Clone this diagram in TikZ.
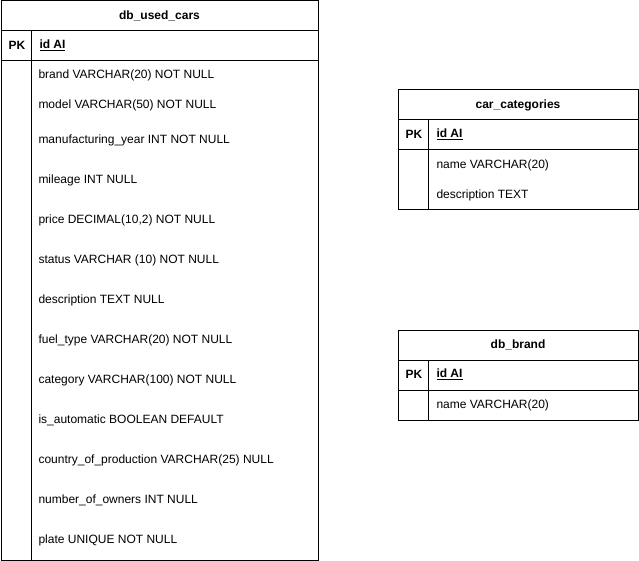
\documentclass[tikz,border=0pt]{standalone}
\usepackage{fontspec}
\setmainfont{Liberation Sans}
\usetikzlibrary{calc}
\tikzset{
  title/.style={inner sep=0pt, font=\fontsize{12}{14}\selectfont\bfseries},
  key/.style={inner sep=0pt, font=\fontsize{12}{14}\selectfont\bfseries},
  field/.style={anchor=west, inner sep=0pt, font=\fontsize{12}{14}\selectfont}
}
% name, x1, y1, x2, y2, title
\newcommand{\drawTable}[6]{
   	\draw (#2,#3) rectangle (#4,#5);
   	\draw (#2,#3+30) -- (#4,#3+30);
   	\draw (#2,#3+60) -- (#4,#3+60);
   	\draw (#2+30,#3+30) -- (#2+30,#5);
   	\node[title] (#1-title) at ({(#2+#4)/2},#3+15) {#6};
   	\node[key] (#1-pk) at (#2+16,#3+44.5) {PK};
   	\node[field, font=\fontsize{12}{14}\selectfont\bfseries] (#1-id) at (#2+38,#3+44.5) {\underline{id AI}};
}
\begin{document}
\begin{tikzpicture}[x=1pt, y=-1pt, line width=1pt]
%%%%%%%%%%%%%%%%%%
\useasboundingbox (0,0) rectangle (639,561);

%Tables
\drawTable{cars}{1}{1}{318}{560}{db\_used\_cars}
\drawTable{categories}{398}{90}{638}{210}{car\_categories}
\drawTable{brand}{398}{330}{638}{420}{db\_brand}

%Fields of db_used_cars
	\foreach \y/\t [count=\i] in {75/brand VARCHAR(20) NOT NULL, 105/model VARCHAR(50) NOT NULL,
		140/manufacturing\_year INT NOT NULL, 180/mileage INT NULL,
		220/{price DECIMAL(10,2) NOT NULL}, 260/status VARCHAR (10) NOT NULL,
		300/description TEXT NULL, 340/fuel\_type VARCHAR(20) NOT NULL,
		380/category VARCHAR(100) NOT NULL, 420/is\_automatic BOOLEAN DEFAULT,
		460/country\_of\_production VARCHAR(25) NULL, 500/number\_of\_owners INT NULL,
		540/plate UNIQUE NOT NULL}
	{
		\node[field] (cars-f\i) at (38,\y) {\t};
	}

%Fields of car_categories
    \node[field] (categories-f1) at (436,165) {name VARCHAR(20)};
    \node[field] (categories-f2) at (436,195) {description TEXT};

%Fields of db_brand
    \node[field] (brand-f1) at (436,405) {name VARCHAR(20)};

\end{tikzpicture}
\end{document}
